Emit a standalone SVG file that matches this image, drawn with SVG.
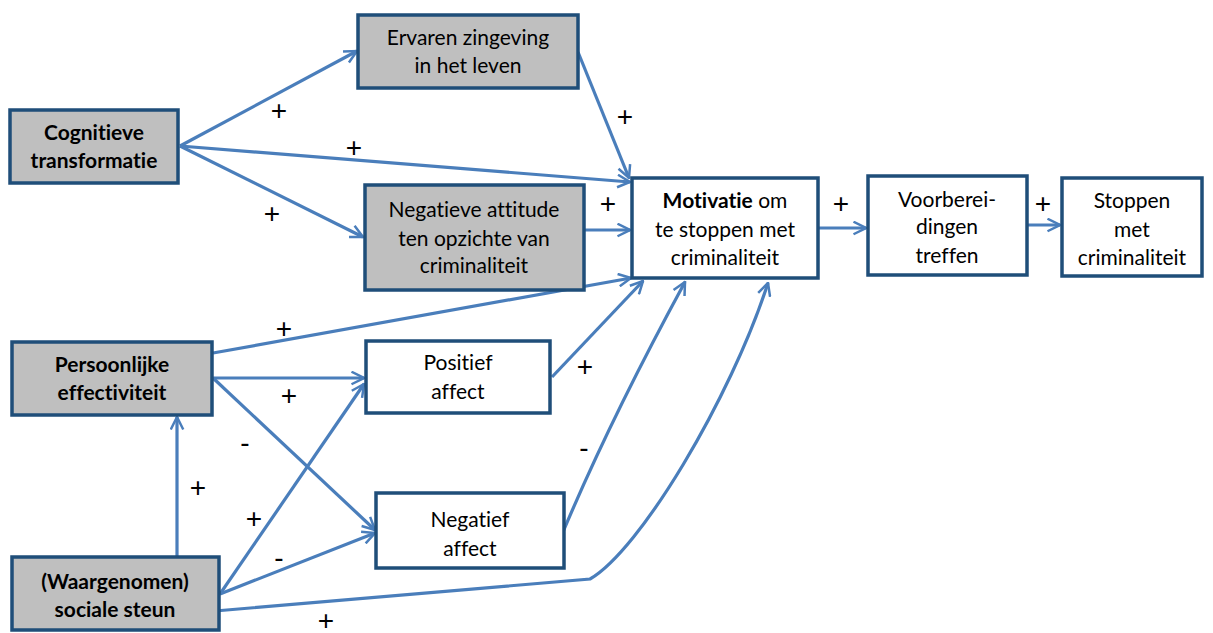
<svg xmlns="http://www.w3.org/2000/svg" width="1213" height="633" viewBox="0 0 1213 633">
<style>
.box{stroke:#1F4E79;stroke-width:3.5}
.g{fill:#BFBFBF}
.w{fill:#FFFFFF}
.t{font-family:Lato,"Open Sans","Liberation Sans",sans-serif;font-size:21px;fill:#000;text-anchor:middle;font-variant-ligatures:none}
.b{font-weight:bold}
.c{fill:none;stroke:#4A7EBB;stroke-width:3.2;marker-end:url(#ah)}
.s{font-family:"Liberation Sans",Arial,sans-serif;font-size:28px;fill:#000;text-anchor:middle}
</style>
<defs>
<marker id="ah" viewBox="0 0 12 12" refX="11" refY="6" markerWidth="15" markerHeight="15" markerUnits="userSpaceOnUse" orient="auto">
<path d="M1,1 L11,6 L1,11" fill="none" stroke="#4A7EBB" stroke-width="2"/>
</marker>
</defs>
<rect width="1213" height="633" fill="#FFFFFF"/>
<g id="connectors">
<path class="c" d="M180,146 L357,51"/>
<path class="c" d="M180,146 L630,182"/>
<path class="c" d="M180,146 L363,237"/>
<path class="c" d="M578,52 L629,178"/>
<path class="c" d="M584,230 L630,230"/>
<path class="c" d="M213,353 L631,278"/>
<path class="c" d="M552,377 L643,281"/>
<path class="c" d="M563,532 Q610,420 685,282"/>
<path class="c" d="M215,611 L590,579 C640,550 730,400 768,283"/>
<path class="c" d="M818,228 L866,228"/>
<path class="c" d="M1027,225 L1060,225"/>
<path class="c" d="M213,378 L364,378"/>
<path class="c" d="M213,378 L375,530"/>
<path class="c" d="M220,594 L364,384"/>
<path class="c" d="M220,594 L375,533"/>
<path class="c" d="M177,556 L177,417"/>
</g>
<g id="labels">
<text class="s" x="279" y="120">+</text>
<text class="s" x="354" y="157">+</text>
<text class="s" x="272" y="223">+</text>
<text class="s" x="625" y="126">+</text>
<text class="s" x="608" y="213">+</text>
<text class="s" x="841" y="213">+</text>
<text class="s" x="1043" y="213">+</text>
<text class="s" x="284" y="338">+</text>
<text class="s" x="289" y="405">+</text>
<text class="s" x="585" y="376">+</text>
<text class="s" x="245" y="452">-</text>
<text class="s" x="584" y="457">-</text>
<text class="s" x="198" y="497">+</text>
<text class="s" x="254" y="528">+</text>
<text class="s" x="279" y="567">-</text>
<text class="s" x="326" y="630">+</text>
</g>
<g id="cognitieve">
<rect class="box g" x="10" y="110" width="168" height="73"/>
<text class="t b" x="94" y="140">Cognitieve</text>
<text class="t b" x="94" y="168">transformatie</text>
</g>
<g id="ervaren">
<rect class="box g" x="358" y="15" width="220" height="73"/>
<text class="t" x="468" y="45">Ervaren zingeving</text>
<text class="t" x="468" y="73">in het leven</text>
</g>
<g id="negatieve">
<rect class="box g" x="365" y="185" width="219" height="105"/>
<text class="t" x="474" y="217">Negatieve attitude</text>
<text class="t" x="474" y="246">ten opzichte van</text>
<text class="t" x="474" y="273">criminaliteit</text>
</g>
<g id="motivatie">
<rect class="box w" x="632" y="178" width="186" height="100"/>
<text class="t" x="725" y="208"><tspan class="b">Motivatie</tspan> om</text>
<text class="t" x="725" y="237">te stoppen met</text>
<text class="t" x="725" y="265">criminaliteit</text>
</g>
<g id="voorbereidingen">
<rect class="box w" x="868" y="176" width="159" height="99"/>
<text class="t" x="947" y="207">Voorberei-</text>
<text class="t" x="947" y="234">dingen</text>
<text class="t" x="947" y="263">treffen</text>
</g>
<g id="stoppen">
<rect class="box w" x="1062" y="178" width="140" height="98"/>
<text class="t" x="1132" y="208">Stoppen</text>
<text class="t" x="1132" y="237">met</text>
<text class="t" x="1132" y="265">criminaliteit</text>
</g>
<g id="persoonlijke">
<rect class="box g" x="12" y="342" width="200" height="73"/>
<text class="t b" x="112" y="372">Persoonlijke</text>
<text class="t b" x="112" y="400">effectiviteit</text>
</g>
<g id="positief">
<rect class="box w" x="366" y="341" width="184" height="72"/>
<text class="t" x="458" y="370">Positief</text>
<text class="t" x="458" y="399">affect</text>
</g>
<g id="negatief">
<rect class="box w" x="376" y="493" width="188" height="75"/>
<text class="t" x="470" y="527">Negatief</text>
<text class="t" x="470" y="556">affect</text>
</g>
<g id="sociale">
<rect class="box g" x="12" y="557" width="207" height="73"/>
<text class="t b" x="115" y="589">(Waargenomen)</text>
<text class="t b" x="115" y="617">sociale steun</text>
</g>
</svg>
